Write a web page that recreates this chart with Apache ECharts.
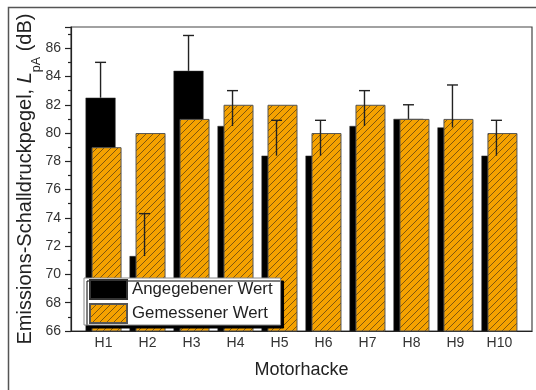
<!DOCTYPE html>
<html>
<head>
<meta charset="utf-8">
<script src="https://cdn.jsdelivr.net/npm/echarts@6/dist/echarts.min.js"></script>
<style>
html,body{margin:0;padding:0;background:#fff;}
#c{width:536px;height:390px;}
</style>
</head>
<body>
<div id="c"></div>
<script>
// ---- data ----
const categories = ['H1','H2','H3','H4','H5','H6','H7','H8','H9','H10'];
const positions = [1,2,3,4,5,6,7,8,9,10];
const angegeben = [82.5, 71.3, 84.4, 80.5, 78.4, 78.4, 80.5, 81.0, 80.4, 78.4];
const angegebenErr = [2.5, 3.0, 2.5, 2.5, 2.5, 2.5, 2.5, 1.0, 3.0, 2.5];
const gemessen = [79, 80, 81, 82, 82, 80, 82, 81, 81, 80];
const yTicks = [66, 68, 70, 72, 74, 76, 78, 80, 82, 84, 86];

// ---- hatch pattern ----
const pc = document.createElement('canvas');
pc.width = 7; pc.height = 7;
const g = pc.getContext('2d');
g.fillStyle = '#F5A200';
g.fillRect(0,0,7,7);
g.strokeStyle = 'rgba(70,50,20,0.75)';
g.lineWidth = 0.9;
g.beginPath();
g.moveTo(-1,8); g.lineTo(8,-1);
g.moveTo(-1,1); g.lineTo(1,-1);
g.moveTo(6,8); g.lineTo(8,6);
g.stroke();
const hatch = {image: pc, repeat: 'repeat'};

const FONT = '"Liberation Sans", Arial, sans-serif';
const BAR_W = 30;
const OFFSET = -3; // black bar centre offset (barGap -80%)

const chart = echarts.init(document.getElementById('c'), null, {renderer: 'canvas'});
chart.setOption({
  animation: false,
  backgroundColor: '#fff',
  graphic: [{
    type: 'rect', left: 6, top: 5, z: 0,
    shape: {width: 600, height: 500},
    style: {fill: 'none', stroke: '#555', lineWidth: 1.5}
  }],
  grid: {left: 71, top: 27, right: 4, bottom: 59, show: true, borderColor: '#444', borderWidth: 1.2, backgroundColor: 'transparent'},
  xAxis: {
    type: 'value', min: 0.26, max: 10.74,
    name: 'Motorhacke', nameLocation: 'middle', nameGap: 30,
    nameTextStyle: {fontFamily: FONT, fontSize: 18, color: '#222'},
    axisLine: {show: true, lineStyle: {color: '#222', width: 1.2}},
    axisTick: {show: false},
    splitLine: {show: false},
    axisLabel: {
      customValues: positions,
      formatter: v => categories[positions.indexOf(v)] || '',
      fontFamily: FONT, fontSize: 14, color: '#333', margin: 5
    }
  },
  yAxis: {
    type: 'value', min: 66, max: 87.5, interval: 2,
    name: '{m|Emissions-Schalldruckpegel, }{i|L}{s|pA}{m| (dB)}',
    nameLocation: 'middle', nameGap: 28, nameRotate: 90,
    nameMoveOverlap: false,
    nameTextStyle: {
      fontFamily: FONT, fontSize: 20, color: '#222',
      rich: {
        m: {fontFamily: FONT, fontSize: 20, color: '#222', verticalAlign: 'bottom', padding: [0, 0, 8, 0]},
        i: {fontFamily: FONT, fontSize: 20, fontStyle: 'italic', color: '#222', verticalAlign: 'bottom', padding: [0, 0, 8, 0]},
        s: {fontFamily: FONT, fontSize: 12.5, color: '#222', verticalAlign: 'bottom'}
      }
    },
    axisLine: {show: true, lineStyle: {color: '#222', width: 1.2}},
    axisTick: {show: true, inside: false, length: 6, lineStyle: {color: '#222', width: 1.2}},
    minorTick: {show: true, splitNumber: 2, length: 3, lineStyle: {color: '#222', width: 1.2}},
    splitLine: {show: false},
    axisLabel: {
      fontFamily: FONT, fontSize: 14, color: '#333', margin: 10,
      showMaxLabel: false,
      formatter: v => yTicks.indexOf(v) >= 0 ? String(v) : ''
    }
  },
  legend: {
    orient: 'vertical', left: 84, top: 278,
    itemWidth: 37, itemHeight: 19, itemGap: 3,
    padding: [1, 8, 1, 5],
    backgroundColor: '#fff', borderColor: '#888', borderWidth: 1,
    shadowColor: '#000', shadowBlur: 0, shadowOffsetX: 3, shadowOffsetY: 3,
    textStyle: {fontFamily: FONT, fontSize: 16.8, color: '#222'},
    icon: 'rect',
    data: ['Angegebener Wert', 'Gemessener Wert']
  },
  series: [
    {
      name: 'Angegebener Wert', type: 'bar', barWidth: BAR_W, barGap: '-80%',
      data: positions.map((p, i) => [p, angegeben[i]]),
      itemStyle: {color: '#000', borderColor: '#333', borderWidth: 0.5},
      z: 2
    },
    {
      name: 'Gemessener Wert', type: 'bar', barWidth: BAR_W, barGap: '-80%',
      data: positions.map((p, i) => [p, gemessen[i]]),
      itemStyle: {color: hatch, borderColor: '#555', borderWidth: 1},
      z: 3
    },
    {
      name: 'err', type: 'custom', z: 5,
      data: positions.map((p, i) => [p, angegeben[i], angegeben[i] + angegebenErr[i]]),
      renderItem: function (params, api) {
        const lo = api.coord([api.value(0), api.value(1)]);
        const hi = api.coord([api.value(0), api.value(2)]);
        const x = lo[0] + OFFSET;
        const style = {stroke: '#222', lineWidth: 1.4};
        return {
          type: 'group',
          children: [
            {type: 'line', shape: {x1: x, y1: lo[1], x2: x, y2: hi[1]}, style: style},
            {type: 'line', shape: {x1: x - 5.5, y1: hi[1], x2: x + 5.5, y2: hi[1]}, style: style}
          ]
        };
      }
    }
  ]
});
</script>
</body>
</html>
